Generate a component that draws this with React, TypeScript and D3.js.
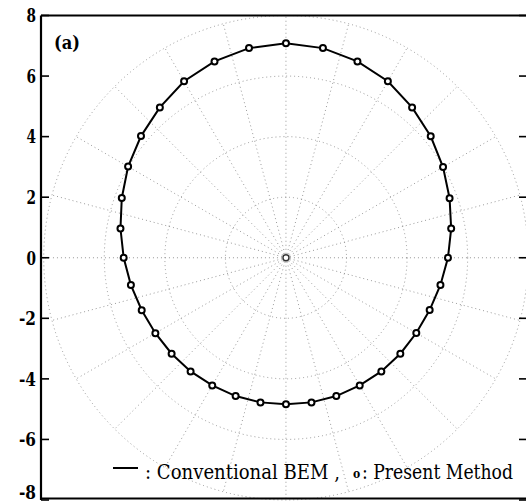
import * as d3 from 'd3';

// polar data: angle in degrees (counter-clockwise from +x), radius
const angles = [0, 10, 20, 30, 40, 50, 60, 70, 80, 90, 100, 110, 120, 130, 140, 150, 160, 170,
  180, 190, 200, 210, 220, 230, 240, 250, 260, 270, 280, 290, 300, 310, 320, 330, 340, 350];
const radii = [5.35, 5.54, 5.75, 5.99, 6.24, 6.48, 6.73, 6.9, 7.03, 7.08, 7.03, 6.9, 6.73, 6.48, 6.25,
  6.02, 5.77, 5.55, 5.36, 5.2, 5.07, 4.98, 4.93, 4.9, 4.87, 4.86, 4.85, 4.84, 4.85, 4.86, 4.87, 4.9,
  4.93, 4.97, 5.05, 5.18];
const sourcePoint = [0, 0];

const yTicks = [8, 6, 4, 2, 0, -2, -4, -6, -8];
const ringRadii = [2, 4, 6, 8];
const spokeAngles = [0, 15, 30, 45, 60, 75, 90, 105, 120, 135, 150, 165, 180, 195, 210, 225, 240,
  255, 270, 285, 300, 315, 330, 345];

const W = 526;
const H = 502;
const left = 41, right = 527, top = 15.5, bottom = 500;

const App = () => {
  const x = d3.scaleLinear().domain([-8.09, 7.96]).range([left, right]);
  const y = d3.scaleLinear().domain([-8, 8]).range([bottom, top]);

  const pts = angles.map((a, i) => {
    const t = (a * Math.PI) / 180;
    return [radii[i] * Math.cos(t), radii[i] * Math.sin(t)];
  });
  const line = d3.line().x(d => x(d[0])).y(d => y(d[1])).curve(d3.curveLinearClosed);

  const gridStyle = { stroke: '#808080', strokeWidth: 0.8, strokeDasharray: '1 3', fill: 'none' };
  const font = 'DejaVu Serif Condensed, DejaVu Serif, serif';

  return (
    <svg width={W} height={H} style={{ position: 'absolute', left: 0, top: 0, background: '#fff' }}>
      <g>
        {ringRadii.map(r => (
          <circle key={r} cx={x(0)} cy={y(0)} r={x(r) - x(0)} style={gridStyle} />
        ))}
        {spokeAngles.map(a => {
          const t = (a * Math.PI) / 180;
          return (
            <line key={a} x1={x(0)} y1={y(0)} x2={x(8 * Math.cos(t))} y2={y(8 * Math.sin(t))} style={gridStyle} />
          );
        })}
      </g>

      <path d={line(pts)} fill="none" stroke="#000" strokeWidth={2} />
      {pts.map((p, i) => (
        <circle key={i} cx={x(p[0])} cy={y(p[1])} r={3} fill="#fff" stroke="#000" strokeWidth={2} />
      ))}
      <circle cx={x(sourcePoint[0])} cy={y(sourcePoint[1])} r={3} fill="#fff" stroke="#333" strokeWidth={1.4} />

      {/* frame */}
      <line x1={left} x2={left} y1={top} y2={bottom} stroke="#000" strokeWidth={2.2} />
      <line x1={left} x2={right} y1={top} y2={top} stroke="#000" strokeWidth={2} />
      <line x1={left} x2={right} y1={bottom - 1.5} y2={bottom - 1.5} stroke="#000" strokeWidth={2} />
      <line x1={right} x2={right} y1={top} y2={bottom} stroke="#000" strokeWidth={2} />

      {yTicks.map(t => (
        <g key={t}>
          <line x1={left} x2={left + 8} y1={y(t)} y2={y(t)} stroke="#000" strokeWidth={1.6} />
          <line x1={right - 8} x2={right} y1={y(t)} y2={y(t)} stroke="#000" strokeWidth={1.6} />
          <text x={36} y={Math.min(y(t), 492)} dy="0.36em" textAnchor="end" fontFamily={font}
            fontWeight="bold" fontSize={19} textLength={t < 0 ? 17 : 9.5} lengthAdjust="spacingAndGlyphs">
            {t}
          </text>
        </g>
      ))}

      <text x={54} y={49} fontFamily={font} fontWeight="bold" fontSize={19} textLength={26}
        lengthAdjust="spacingAndGlyphs">(a)</text>

      {/* legend */}
      <line x1={113} x2={138} y1={468} y2={468} stroke="#000" strokeWidth={2} />
      <text x={145} y={479} fontFamily={font} fontSize={21} textLength={195}
        lengthAdjust="spacingAndGlyphs">: Conventional BEM ,</text>
      <text x={353} y={478} fontFamily={font} fontWeight="bold" fontSize={12}>o</text>
      <text x={513} y={479} textAnchor="end" fontFamily={font} fontSize={21} textLength={151}
        lengthAdjust="spacingAndGlyphs">: Present Method</text>
    </svg>
  );
};

export default App;
